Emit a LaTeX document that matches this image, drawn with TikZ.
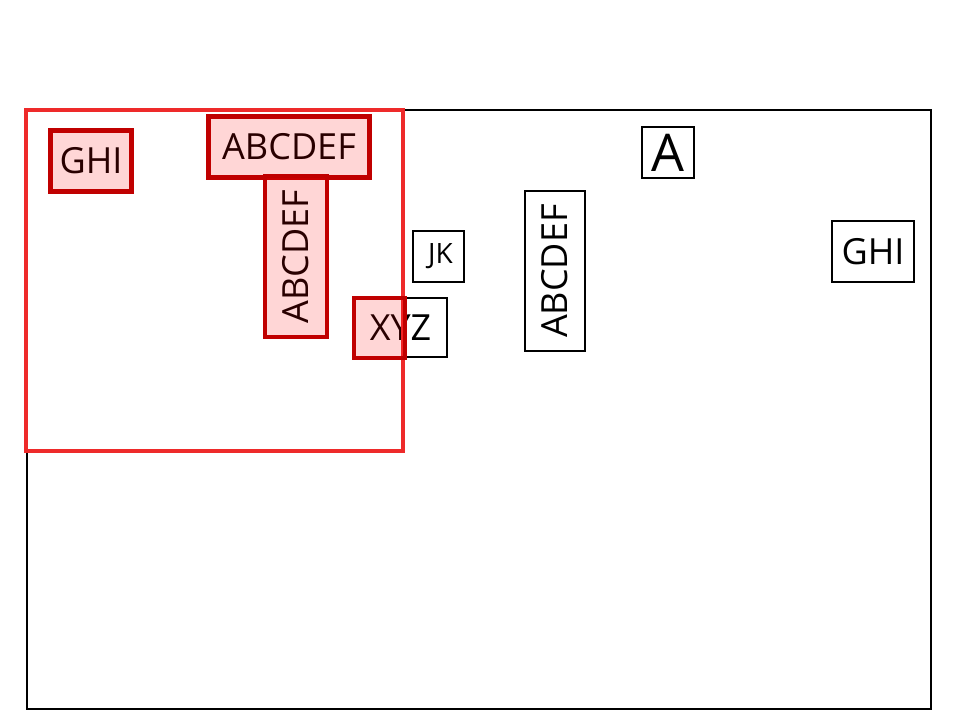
\documentclass[tikz,border=0pt]{standalone}
\usepackage{fontspec}
\setmainfont{Open Sans}
\usepackage{tikz}
\usetikzlibrary{positioning}
\definecolor{hlred}{HTML}{EE2A2A}
\definecolor{hldark}{HTML}{C00000}
\newcommand{\pxu}{0.75pt}
\tikzset{
  bx/.style={draw=black,line width=1.6*\pxu,inner sep=0pt,font=\fontsize{27}{30}\selectfont,fill=white},
  hl/.style={draw=hldark,line width=4.5*\pxu,inner sep=0pt,fill=red,fill opacity=0.16,draw opacity=1},
  frame/.style={draw=black,line width=2.5*\pxu},
  region/.style={draw=hlred,line width=4*\pxu},
}
\begin{document}
\begin{tikzpicture}[x=\pxu,y=-\pxu]
\useasboundingbox (0,0) rectangle (954,724);
% base layout
\draw[frame] (27,110) rectangle (931,709);
\node[bx,minimum width=81*\pxu,minimum height=61*\pxu] (ghiL) at (91,161) {GHI};
\node[bx,minimum width=161*\pxu,minimum height=61*\pxu] (abcH) at (289,147) {ABCDEF};
\node[bx,rotate=90,minimum width=161*\pxu,minimum height=62*\pxu] (abcV) at (296,256.5) {ABCDEF};
\node[bx,minimum width=93*\pxu,minimum height=59*\pxu] (xyz) at (400.5,327.5) {XYZ};
\node[bx,minimum width=51*\pxu,minimum height=51*\pxu,font=\fontsize{21}{24}\selectfont] (jk) at (438.5,256.5) {\hspace{3pt}JK};
\node[bx,rotate=90,minimum width=160*\pxu,minimum height=60*\pxu] (abcV2) at (555,271) {ABCDEF};
\node[bx,minimum width=52*\pxu,minimum height=51*\pxu,font=\fontsize{39}{42}\selectfont] (a) at (668,152.5) {A};
\node[bx,minimum width=82*\pxu,minimum height=61*\pxu] (ghiR) at (873,251.5) {GHI};
% highlights
\draw[region] (26,110) rectangle (403,451);
\node[hl,minimum width=81*\pxu,minimum height=61*\pxu] (hlGhi) at (ghiL) {};
\node[hl,minimum width=161*\pxu,minimum height=61*\pxu] (hlAbcH) at (abcH) {};
\node[hl,minimum width=62*\pxu,minimum height=161*\pxu] (hlAbcV) at (abcV) {};
\node[hl,minimum width=51*\pxu,minimum height=60*\pxu] (hlXyz) at (379.5,328) {};
\end{tikzpicture}
\end{document}
